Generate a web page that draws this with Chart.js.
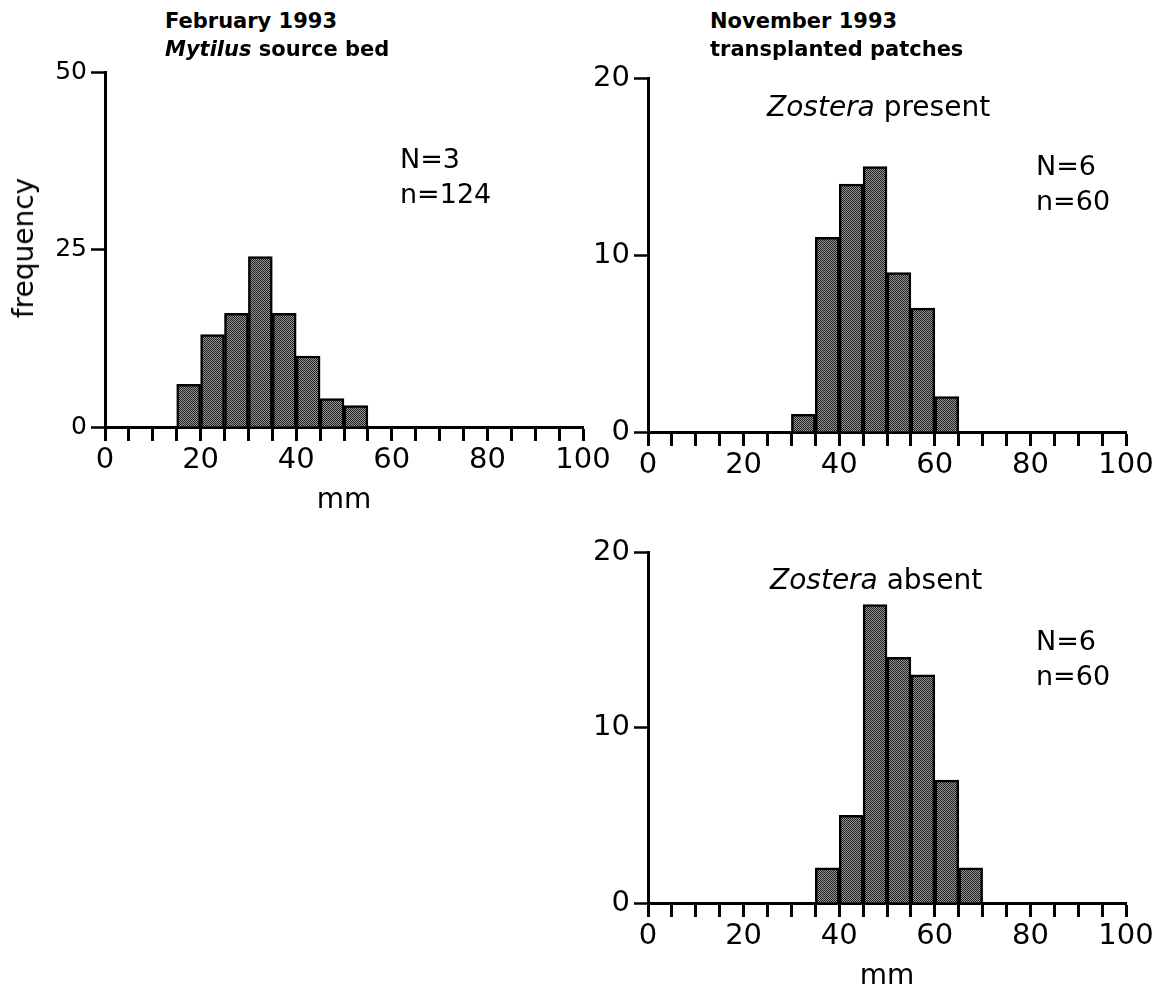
<!DOCTYPE html>
<html>
<head>
<meta charset="utf-8">
<script src="https://cdn.jsdelivr.net/npm/chart.js@4"></script>
<style>
  html, body { margin: 0; padding: 0; background: #fff; overflow: hidden; }
  body { width: 1170px; height: 989px; position: relative; font-family: "DejaVu Sans", sans-serif; color: #000; }
  canvas { position: absolute; }
  .txt { position: absolute; white-space: nowrap; line-height: 1; }
  .head { font-weight: bold; font-size: 21px; }
  .lab { font-size: 27px; }
  .sub { font-size: 28px; }
</style>
</head>
<body>
<canvas id="feb" style="left:0px;top:40px" width="613" height="475"></canvas>
<canvas id="present" style="left:560px;top:40px" width="596" height="480"></canvas>
<canvas id="absent" style="left:560px;top:520px" width="596" height="471"></canvas>

<div class="txt head" style="left:165px;top:11px">February 1993</div>
<div class="txt head" style="left:165px;top:39px"><i>Mytilus</i> source bed</div>
<div class="txt head" style="left:710px;top:11px">November 1993</div>
<div class="txt head" style="left:710px;top:39px">transplanted patches</div>
<div class="txt sub" style="left:767px;top:93px"><i>Zostera</i> present</div>
<div class="txt sub" style="left:770px;top:566px"><i>Zostera</i> absent</div>
<div class="txt lab" style="left:400px;top:145px">N=3</div>
<div class="txt lab" style="left:400px;top:180px">n=124</div>
<div class="txt lab" style="left:1036px;top:152px">N=6</div>
<div class="txt lab" style="left:1036px;top:187px">n=60</div>
<div class="txt lab" style="left:1036px;top:627px">N=6</div>
<div class="txt lab" style="left:1036px;top:662px">n=60</div>
<div class="txt sub" style="left:24px;top:248px;transform:translate(-50%,-50%) rotate(-90deg)">frequency</div>

<script>
// shell length bins (mm), lower edge of each 5 mm class
const febBins = [15, 20, 25, 30, 35, 40, 45, 50];
const febCounts = [6, 13, 16, 24, 16, 10, 4, 3];

const presentBins = [30, 35, 40, 45, 50, 55, 60];
const presentCounts = [1, 11, 14, 15, 9, 7, 2];

const absentBins = [35, 40, 45, 50, 55, 60, 65];
const absentCounts = [2, 5, 17, 14, 13, 7, 2];

const xTickLabels = [0, 20, 40, 60, 80, 100];
const binWidth = 5;

const tickFont = "'DejaVu Sans', sans-serif";

// stippled grey fill like the printed figure
const pc = document.createElement('canvas');
pc.width = 2; pc.height = 2;
const g = pc.getContext('2d');
g.fillStyle = '#959595';
g.fillRect(0, 0, 2, 2);
g.fillStyle = '#202020';
g.fillRect(0, 0, 1, 1);
g.fillRect(1, 1, 1, 1);
const stipple = g.createPattern(pc, 'repeat');

function histo(id, bins, counts, yMax, yStep, yFont, yWidth, padTop, showMm) {
  return new Chart(document.getElementById(id), {
    type: 'bar',
    data: {
      datasets: [{
        data: bins.map((b, i) => ({ x: b + binWidth / 2, y: counts[i] })),
        backgroundColor: stipple,
        borderColor: '#000',
        borderWidth: 2.5,
        borderSkipped: 'bottom',
        barPercentage: 1,
        categoryPercentage: 1
      }]
    },
    options: {
      responsive: false,
      animation: false,
      layout: { padding: { top: padTop, right: 30, left: 0, bottom: 0 } },
      plugins: { legend: { display: false }, tooltip: { enabled: false } },
      scales: {
        x: {
          type: 'linear',
          min: 0,
          max: 100,
          offset: false,
          afterFit: s => { s.height = 88; },
          ticks: {
            stepSize: binWidth,
            autoSkip: false,
            maxRotation: 0,
            padding: 2,
            color: '#000',
            font: { size: 29, family: tickFont },
            callback: v => xTickLabels.includes(v) ? String(v) : ''
          },
          grid: { offset: false, drawOnChartArea: false, drawTicks: true, tickLength: 14, tickWidth: 3, color: '#000' },
          border: { display: true, color: '#000', width: 3 },
          title: {
            display: showMm,
            text: 'mm',
            color: '#000',
            padding: 0,
            font: { size: 28, family: tickFont, lineHeight: 1 }
          }
        },
        y: {
          min: 0,
          max: yMax,
          afterFit: s => { s.width = yWidth; },
          ticks: {
            stepSize: yStep,
            padding: 4,
            color: '#000',
            font: { size: yFont, family: tickFont }
          },
          grid: { drawOnChartArea: false, drawTicks: true, tickLength: 14, tickWidth: 2.5, color: '#000' },
          border: { display: true, color: '#000', width: 3 }
        }
      }
    }
  });
}

histo('feb', febBins, febCounts, 50, 25, 25, 105, 32, true);
histo('present', presentBins, presentCounts, 20, 10, 29, 88, 38, false);
histo('absent', absentBins, absentCounts, 20, 10, 29, 88, 32, true);
</script>
</body>
</html>
